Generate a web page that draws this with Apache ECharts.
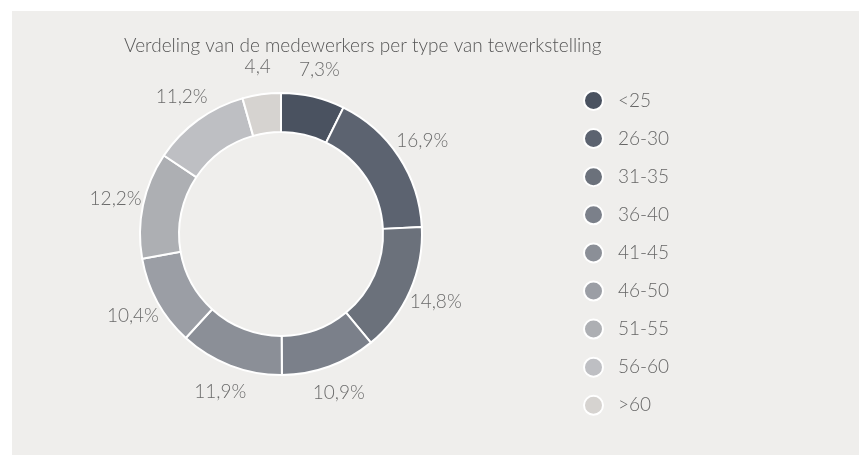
<!DOCTYPE html>
<html>
<head>
<meta charset="utf-8">
<script src="https://cdn.jsdelivr.net/npm/echarts@6/dist/echarts.min.js"></script>
<style>
  html, body { margin: 0; padding: 0; background: #ffffff; }
  #chart { position: absolute; left: 12px; top: 11px; width: 847px; height: 444px; background: #efeeec; }
</style>
</head>
<body>
<div id="chart"></div>
<script>
const categories = ['<25', '26-30', '31-35', '36-40', '41-45', '46-50', '51-55', '56-60', '>60']
const values = [7.3, 16.9, 14.8, 10.9, 11.9, 10.4, 12.2, 11.2, 4.4]
const labelTexts = ['7,3%', '16,9%', '14,8%', '10,9%', '11,9%', '10,4%', '12,2%', '11,2%', '4,4']
const colors = ['#4a5260', '#5c6370', '#6b717b', '#7b808a', '#8b8f97', '#9b9ea5', '#adafb3', '#bebfc3', '#d6d3d0']

let chart = echarts.init(document.getElementById('chart'))
let data = []
for (let i = 0; i < categories.length; i++) {
  data.push({
    name: categories[i],
    value: values[i],
    itemStyle: { color: colors[i] },
    label: { formatter: labelTexts[i] }
  })
}
let option = {
  animation: false,
  title: {
    text: 'Verdeling van de medewerkers per type van tewerkstelling',
    left: 107,
    top: 20,
    textStyle: { fontFamily: 'Lato', fontWeight: 300, fontSize: 19, color: '#555555' }
  },
  legend: {
    orient: 'vertical',
    left: 566,
    top: 74,
    icon: 'circle',
    itemWidth: 19,
    itemHeight: 19,
    itemGap: 17.1,
    data: categories,
    textStyle: { fontFamily: 'Lato', fontWeight: 300, fontSize: 19, color: '#666666', padding: [0, 0, 0, 10] }
  },
  series: [
    {
      type: 'pie',
      center: [269, 223],
      radius: [102, 141],
      startAngle: 90,
      clockwise: true,
      avoidLabelOverlap: false,
      itemStyle: { borderColor: '#ffffff', borderWidth: 2 },
      label: {
        position: 'outside',
        distanceToLabelLine: 0,
        fontFamily: 'Lato',
        fontWeight: 300,
        fontSize: 19,
        color: '#6b6b6b'
      },
      labelLine: { show: false, length: 28, length2: 0 },
      labelLayout: function () {
        return { align: 'center' }
      },
      emphasis: { disabled: true },
      data: data
    }
  ]
}
chart.setOption(option)
</script>
</body>
</html>
